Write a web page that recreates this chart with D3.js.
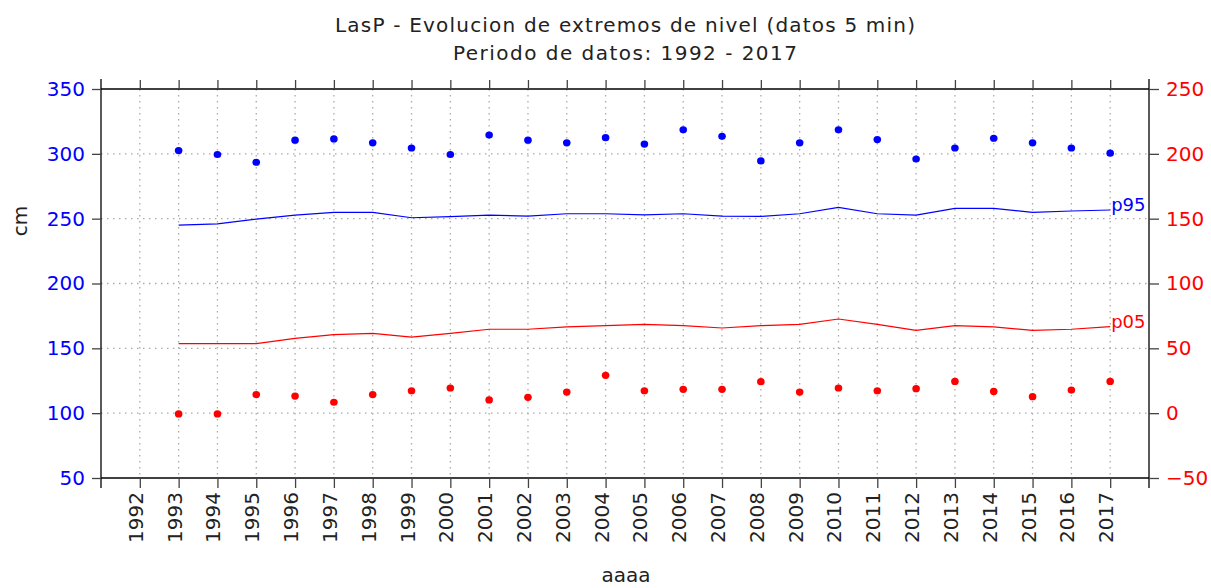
<!DOCTYPE html>
<html>
<head>
<meta charset="utf-8">
<script src="https://cdn.jsdelivr.net/npm/d3@7"></script>
<style>
  body { margin: 0; background: #fff; }
  text { font-family: "DejaVu Sans", sans-serif; }
</style>
</head>
<body>
<script>
const width = 1211;
const height = 588;

// datos
const years = [1993, 1994, 1995, 1996, 1997, 1998, 1999, 2000, 2001, 2002, 2003, 2004, 2005,
               2006, 2007, 2008, 2009, 2010, 2011, 2012, 2013, 2014, 2015, 2016, 2017];
const maxNivel = [302.5, 299.5, 293.5, 310.5, 311.5, 308.5, 304.5, 299.5, 314.5, 310.5, 308.5, 312.5, 307.5,
                  318.5, 313.5, 294.5, 308.5, 318.5, 311, 296, 304.5, 312, 308.5, 304.5, 300.5];
const p95 = [245, 246, 249.7, 252.8, 254.9, 254.9, 250.7, 251.5, 252.8, 252, 253.8, 253.8, 253,
             253.8, 252, 251.7, 253.8, 258.7, 253.8, 252.8, 258, 258, 254.9, 255.9, 256.7];
const p05 = [153.6, 153.6, 153.6, 157.7, 160.5, 161.6, 158.7, 161.6, 164.7, 164.7, 166.5, 167.5, 168.5,
             167.5, 165.7, 167.5, 168.5, 172.6, 168.5, 163.9, 167.5, 166.5, 163.9, 164.7, 166.7];
const minNivel = [99.4, 99.4, 114.3, 113.2, 108.4, 114.3, 117.3, 119.4, 110.2, 112.2, 116.3, 129.2, 117.3,
                  118.4, 118.4, 124.3, 116.3, 119.4, 117.3, 118.9, 124.5, 116.8, 112.7, 117.8, 124.5];

// ejes
const tickYears = [1992, 1993, 1994, 1995, 1996, 1997, 1998, 1999, 2000, 2001, 2002, 2003, 2004,
                   2005, 2006, 2007, 2008, 2009, 2010, 2011, 2012, 2013, 2014, 2015, 2016, 2017];
const leftTicks = [50, 100, 150, 200, 250, 300, 350];
const rightTicks = [-50, 0, 50, 100, 150, 200, 250];
const gridY = [100, 150, 200, 250, 300];

const azul = "#0000ff";
const rojo = "#ff0000";

const L = 101, R = 1149, T = 89, B = 478;

const svg = d3.select("body").append("svg")
  .attr("width", width)
  .attr("height", height);

const x = d3.scaleLinear().domain([1991, 2018]).range([L, R]);
const yL = d3.scaleLinear().domain([50, 350]).range([B, T]);
const yR = d3.scaleLinear().domain([-50, 250]).range([B, T]);

// titulo
svg.append("text")
  .attr("x", 625).attr("y", 32)
  .attr("text-anchor", "middle")
  .style("font-size", "20px")
  .attr("fill", "#222")
  .attr("textLength", 580).attr("lengthAdjust", "spacing")
  .text("LasP - Evolucion de extremos de nivel (datos 5 min)");

svg.append("text")
  .attr("x", 625).attr("y", 60)
  .attr("text-anchor", "middle")
  .style("font-size", "20px")
  .attr("fill", "#222")
  .attr("textLength", 344).attr("lengthAdjust", "spacing")
  .text("Periodo de datos: 1992 - 2017");

// rejilla punteada
const grid = svg.append("g");
grid.selectAll("line.v").data(tickYears).join("line")
  .attr("x1", d => x(d)).attr("x2", d => x(d))
  .attr("y1", T).attr("y2", B)
  .attr("stroke", "#aaa").attr("stroke-width", 1.3)
  .attr("stroke-dasharray", "1.5,4.5");
grid.selectAll("line.h").data(gridY).join("line")
  .attr("x1", L).attr("x2", R)
  .attr("y1", d => yL(d)).attr("y2", d => yL(d))
  .attr("stroke", "#aaa").attr("stroke-width", 1.3)
  .attr("stroke-dasharray", "1.5,4.5");

// marco
const frame = svg.append("g").attr("stroke", "#000").attr("stroke-width", 1.3);
frame.append("line").attr("x1", L).attr("x2", L).attr("y1", T - 10).attr("y2", B + 10);
frame.append("line").attr("x1", R).attr("x2", R).attr("y1", T - 10).attr("y2", B + 10);
frame.append("line").attr("x1", L).attr("x2", R).attr("y1", T).attr("y2", T);
frame.append("line").attr("x1", L).attr("x2", R).attr("y1", B).attr("y2", B);

// eje izquierdo (cm)
const axL = svg.append("g")
  .attr("transform", `translate(${L},0)`)
  .call(d3.axisLeft(yL).tickValues(leftTicks).tickSize(9).tickPadding(7).tickSizeOuter(0));
axL.select(".domain").remove();
axL.selectAll(".tick line").attr("stroke", "#444").attr("stroke-width", 1.3);
axL.selectAll("text").attr("fill", azul).style("font-size", "20px");

// eje derecho
const axR = svg.append("g")
  .attr("transform", `translate(${R},0)`)
  .call(d3.axisRight(yR).tickValues(rightTicks).tickSize(10).tickPadding(7).tickSizeOuter(0));
axR.select(".domain").remove();
axR.selectAll(".tick line").attr("stroke", "#444").attr("stroke-width", 1.3);
axR.selectAll("text").attr("fill", rojo).style("font-size", "20px");

// eje superior (solo marcas)
const axT = svg.append("g")
  .attr("transform", `translate(0,${T})`)
  .call(d3.axisTop(x).tickValues(tickYears).tickSize(9).tickFormat("").tickSizeOuter(0));
axT.select(".domain").remove();
axT.selectAll(".tick line").attr("stroke", "#444").attr("stroke-width", 1.3);

// eje inferior con años girados
const axB = svg.append("g")
  .attr("transform", `translate(0,${B})`)
  .call(d3.axisBottom(x).tickValues(tickYears).tickSize(10).tickFormat(d3.format("d")).tickSizeOuter(0));
axB.select(".domain").remove();
axB.selectAll(".tick line").attr("stroke", "#444").attr("stroke-width", 1.3);
axB.selectAll("text")
  .attr("fill", "#222")
  .style("font-size", "20px")
  .attr("text-anchor", "end")
  .attr("dy", null)
  .attr("transform", "translate(2.5,14) rotate(-90)")
  .attr("x", 0).attr("y", 0);

// titulos de ejes
svg.append("text")
  .attr("transform", "translate(27,221) rotate(-90)")
  .attr("text-anchor", "middle")
  .style("font-size", "20px")
  .attr("fill", "#222")
  .text("cm");

svg.append("text")
  .attr("x", 626).attr("y", 582)
  .attr("text-anchor", "middle")
  .style("font-size", "20px")
  .attr("fill", "#222")
  .text("aaaa");

// lineas de percentiles
const linea = s => d3.line().x((d, i) => x(years[i])).y(d => yL(d))(s);

svg.append("path").attr("d", linea(p95))
  .attr("fill", "none").attr("stroke", azul).attr("stroke-width", 1.2);
svg.append("path").attr("d", linea(p05))
  .attr("fill", "none").attr("stroke", rojo).attr("stroke-width", 1.2);

svg.append("text")
  .attr("x", x(years[years.length - 1]) + 1).attr("y", yL(p95[p95.length - 1]) + 1)
  .style("font-size", "18px").attr("fill", azul)
  .text("p95");
svg.append("text")
  .attr("x", x(years[years.length - 1]) + 1).attr("y", yL(p05[p05.length - 1]) + 1)
  .style("font-size", "18px").attr("fill", rojo)
  .text("p05");

// puntos de extremos
svg.append("g").selectAll("ellipse").data(maxNivel).join("ellipse")
  .attr("cx", (d, i) => x(years[i])).attr("cy", d => yL(d))
  .attr("rx", 3.8).attr("ry", 3.6)
  .attr("fill", azul);
svg.append("g").selectAll("ellipse").data(minNivel).join("ellipse")
  .attr("cx", (d, i) => x(years[i])).attr("cy", d => yL(d))
  .attr("rx", 3.8).attr("ry", 3.6)
  .attr("fill", rojo);
</script>
</body>
</html>
